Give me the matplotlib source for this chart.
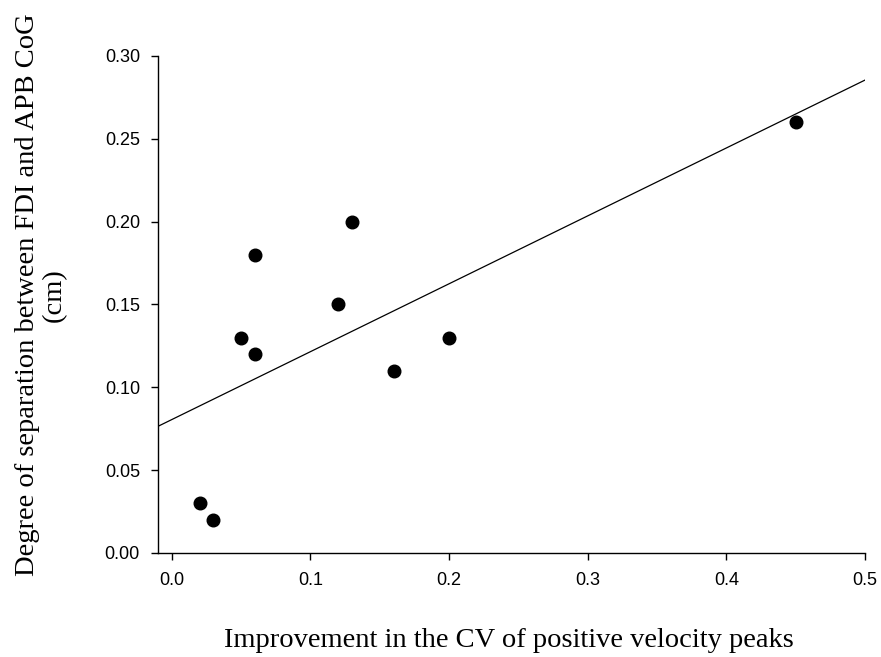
import numpy as np
import matplotlib
matplotlib.use("Agg")
import matplotlib.pyplot as plt

# Improvement in CV of positive velocity peaks vs. FDI/APB CoG separation
cv_improvement = [0.02, 0.03, 0.05, 0.06, 0.06, 0.12, 0.13, 0.16, 0.20, 0.45]
cog_separation = [0.03, 0.02, 0.13, 0.12, 0.18, 0.15, 0.20, 0.11, 0.13, 0.26]

x_ticks = [0.0, 0.1, 0.2, 0.3, 0.4, 0.5]
y_ticks = [0.00, 0.05, 0.10, 0.15, 0.20, 0.25, 0.30]
x_limits = (-0.01, 0.5)
y_limits = (0.0, 0.30)

fig = plt.figure(figsize=(8.81, 6.57), dpi=100)
ax = fig.add_axes([0.1793, 0.1583, 0.8025, 0.7565])

ax.scatter(cv_improvement, cog_separation, s=82, color="black", zorder=3,
           clip_on=False)

# least-squares fit drawn across the full x range
slope, intercept = np.polyfit(cv_improvement, cog_separation, 1)
xs = np.array(x_limits)
ax.plot(xs, intercept + slope * xs, color="black", lw=0.9)

ax.set_xlim(*x_limits)
ax.set_ylim(*y_limits)
ax.set_xticks(x_ticks)
ax.set_yticks(y_ticks)
ax.set_xticklabels([f"{v:.1f}" for v in x_ticks])
ax.set_yticklabels([f"{v:.2f}" for v in y_ticks])

for side in ("top", "right"):
    ax.spines[side].set_visible(False)
for side in ("left", "bottom"):
    ax.spines[side].set_linewidth(1.0)

ax.tick_params(axis="both", direction="out", length=5, width=1.0,
               labelsize=13)
ax.tick_params(axis="x", pad=9)
ax.tick_params(axis="y", pad=8)
for lab in ax.get_xticklabels() + ax.get_yticklabels():
    lab.set_fontfamily("Liberation Sans")

fig.text(0.578, 0.0152, "Improvement in the CV of positive velocity peaks",
         fontfamily="Liberation Serif", fontsize=20.5,
         ha="center", va="baseline")
fig.text(0.0465, 0.551, "Degree of separation between FDI and APB CoG\n(cm)",
         fontfamily="Liberation Serif", fontsize=20.5, rotation=90,
         ha="center", va="center", multialignment="center",
         linespacing=1.1)

fig.savefig("out.png", dpi=100)
